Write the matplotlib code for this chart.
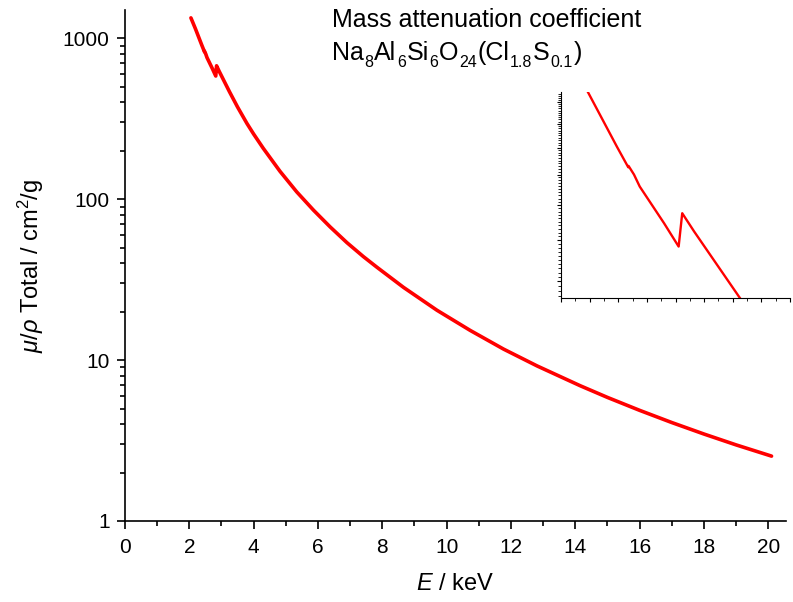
import numpy as np
import matplotlib
matplotlib.use('Agg')
import matplotlib.pyplot as plt
from matplotlib.ticker import MultipleLocator, LogLocator, FixedLocator, NullFormatter, FuncFormatter

plt.rcParams['font.family'] = ['Liberation Sans', 'DejaVu Sans']
plt.rcParams['mathtext.fontset'] = 'custom'
plt.rcParams['mathtext.rm'] = 'Liberation Sans'
plt.rcParams['mathtext.it'] = 'Liberation Sans:italic'
plt.rcParams['mathtext.bf'] = 'Liberation Sans:bold'

# photon energy (keV) and mass attenuation coefficient (cm2/g)
energy = [2.05, 2.19, 2.39, 2.47, 2.472, 2.51, 2.55, 2.72, 2.822, 2.847, 2.93,
          3.25, 3.5, 3.79, 4.0, 4.3, 4.82, 5.34, 5.86, 6.38, 6.9, 7.41, 7.83,
          8.66, 9.7, 10.73, 11.77, 12.81, 14.15, 15.0, 16.0, 17.0, 18.0, 19.0, 20.1]
mu_rho = [1340, 1147, 905, 826, 831, 800, 759, 646, 583, 675, 623,
          465, 374, 296, 254, 207, 149, 111, 85.5, 67.2, 53.7, 44.0, 37.8,
          28.3, 20.4, 15.3, 11.7, 9.2, 6.93, 5.86, 4.87, 4.09, 3.47, 2.97, 2.53]

y_ticks = [1, 10, 100, 1000]
inset_yticks = [500, 600, 700, 800, 900, 1000, 1100]

# formula pieces: (text, is_subscript)
formula = [('Na', False), ('8', True), ('Al', False), ('6', True), ('Si', False),
           ('6', True), ('O', False), ('24', True), ('(Cl', False), ('1.8', True),
           ('S', False), ('0.1', True), (')', False)]

W, H = 793, 602
fig = plt.figure(figsize=(W / 100, H / 100), dpi=100)
ax = fig.add_axes([0.1576, 0.1346, 0.8336, 0.8488])

ax.plot(energy, mu_rho, color='#ff0000', lw=2.6, solid_capstyle='round')
ax.set_yscale('log')
ax.set_xlim(0, 20.55)
ax.set_ylim(1, 1500)

ax.xaxis.set_major_locator(MultipleLocator(2))
ax.xaxis.set_minor_locator(MultipleLocator(1))
ax.yaxis.set_major_locator(FixedLocator(y_ticks))
ax.yaxis.set_major_formatter(FuncFormatter(lambda v, p: '%d' % v))
ax.yaxis.set_minor_locator(LogLocator(base=10, subs=np.arange(2, 10)))
ax.yaxis.set_minor_formatter(NullFormatter())

for s in ['top', 'right']:
    ax.spines[s].set_visible(False)
for s in ['left', 'bottom']:
    ax.spines[s].set_linewidth(1.2)
ax.tick_params(which='major', direction='out', length=6, width=1.2, labelsize=15)
ax.tick_params(axis='x', which='major', pad=6)
ax.tick_params(axis='y', which='major', pad=5)
ax.tick_params(which='minor', direction='out', length=3.5, width=1.2)

ax.set_xlabel(r'$E$ / keV', fontsize=17, labelpad=12)
ax.set_ylabel(r'$\mu/\rho$ Total / cm$^{2}$/g', fontsize=17, labelpad=12)

fig.text(332 / W, 1 - 27 / H, 'Mass attenuation coefficient', fontsize=18,
         ha='left', va='baseline')

# chemical formula laid out piece by piece (Origin-style subscripts)
renderer = fig.canvas.get_renderer()
texts = []
for txt, sub in formula:
    t = fig.text(0, 1 - (67 if sub else 60) / H, txt, fontsize=11.5 if sub else 18,
                 ha='left', va='baseline')
    texts.append(t)
widths = [t.get_window_extent(renderer).width for t in texts]
gap = max(0.5, (250 - sum(widths)) / (len(texts) - 1))
x = 332.0
for t, w in zip(texts, widths):
    t.set_x(x / W)
    x += w + gap

# inset around the S and Cl K edges
axi = fig.add_axes([561 / W, 1 - 298 / H, 229 / W, 205.6 / H])
axi.plot(energy, mu_rho, color='#ff0000', lw=1.7)
axi.set_yscale('log')
axi.set_xlim(2.0, 3.6)
axi.set_ylim(465, 1148)
axi.xaxis.set_major_locator(MultipleLocator(0.2))
axi.xaxis.set_minor_locator(MultipleLocator(0.1))
axi.yaxis.set_major_locator(FixedLocator(inset_yticks))
axi.yaxis.set_minor_locator(FixedLocator(np.arange(470, 1150, 10)))
axi.xaxis.set_major_formatter(NullFormatter())
axi.yaxis.set_major_formatter(NullFormatter())
axi.yaxis.set_minor_formatter(NullFormatter())
for s in ['top', 'right']:
    axi.spines[s].set_visible(False)
for s in ['left', 'bottom']:
    axi.spines[s].set_linewidth(0.8)
axi.tick_params(which='major', direction='out', length=3, width=0.8)
axi.tick_params(which='minor', direction='out', length=2, width=0.6)

fig.savefig('out.png', dpi=100)
